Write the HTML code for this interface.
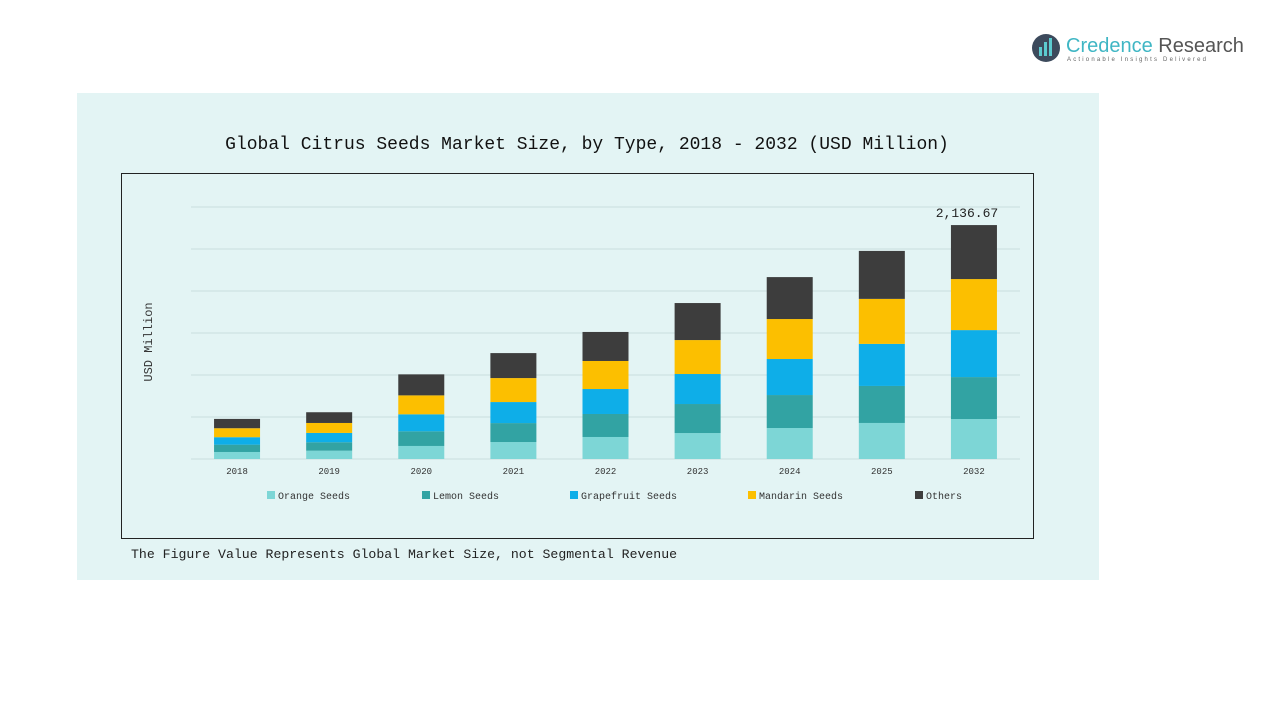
<!DOCTYPE html>
<html><head><meta charset="utf-8"><style>
body{margin:0;width:1267px;height:713px;background:#fff;overflow:hidden;font-family:"Liberation Mono","Noto Serif CJK SC",monospace;}
</style></head><body>
<svg id="chart" width="1267" height="713" xmlns="http://www.w3.org/2000/svg">
<g>
<circle cx="1046" cy="48" r="14" fill="#3c4a5c"/>
<rect x="1039" y="47" width="3" height="9" fill="#5ccbd0"/>
<rect x="1044" y="42" width="3" height="14" fill="#5ccbd0"/>
<rect x="1049" y="38" width="3" height="18" fill="#5ccbd0"/>
<text x="1066" y="52" font-family="Liberation Sans, sans-serif" font-size="20" fill="#3fb6c4">Credence <tspan fill="#555">Research</tspan></text>
<text x="1067" y="61" font-family="Liberation Sans, sans-serif" font-size="6" letter-spacing="2.2" fill="#666">Actionable Insights Delivered</text>
</g>
<rect x="77" y="93" width="1022" height="487" fill="#e3f4f4"/>
<text x="587" y="149" text-anchor="middle" font-size="18" fill="#111">Global Citrus Seeds Market Size, by Type, 2018 - 2032 (USD Million)</text>
<rect x="121.5" y="173.5" width="912" height="365" fill="none" stroke="#222" stroke-width="1"/>
<text transform="translate(152,342) rotate(-90)" text-anchor="middle" font-size="12" fill="#333">USD Million</text>
<g id="grid"></g><g id="bars"></g><g id="xlabels"></g><g id="legend"></g>
<text x="967" y="217" text-anchor="middle" font-size="13" fill="#222">2,136.67</text>
<text x="131" y="558" font-size="13.2" fill="#222">The Figure Value Represents Global Market Size, not Segmental Revenue</text>
</svg>
<script>
const categories=["2018","2019","2020","2021","2022","2023","2024","2025","2032"];
const seriesNames=["Orange Seeds","Lemon Seeds","Grapefruit Seeds","Mandarin Seeds","Others"];
const orange=[64,76,119,155,201,237,283,329,365];
const lemon=[67,77,134,173,210,265,301,338,383];
const grapefruit=[68,85,155,192,228,274,329,384,429];
const mandarin=[82,91,173,219,256,310,365,411,466];
const others=[85,98,192,228,265,338,383,438,493];
const series=[orange,lemon,grapefruit,mandarin,others];
const colors=["#7dd6d6","#32a3a3","#0eaee8","#fcbf00","#3d3d3d"];
const NS="http://www.w3.org/2000/svg";
const x0=191,x1=1020,y0=459,yTop=207,yMax=2301,barW=46;
const band=(x1-x0)/categories.length;
const xc=i=>x0+band*(i+0.5);
const y=v=>y0-(v/yMax)*(y0-yTop);
function mk(tag,attrs,parent){const e=document.createElementNS(NS,tag);for(const k in attrs)e.setAttribute(k,attrs[k]);parent.appendChild(e);return e;}
const grid=document.getElementById('grid');
for(let g=0;g<=6;g++){const yy=y(yMax*g/6);
const l=mk('line',{x1:x0,x2:x1,y1:yy,y2:yy,stroke:'#c9dede','stroke-width':1},grid);

}
const bars=document.getElementById('bars');
categories.forEach((c,i)=>{let acc=0;
series.forEach((s,j)=>{const r=mk('rect',{x:xc(i)-barW/2,y:y(acc+s[i]),width:barW,height:y(acc)-y(acc+s[i]),fill:colors[j]},bars);


acc+=s[i];});
const t=mk('text',{x:xc(i),y:474,'text-anchor':'middle','font-size':9,fill:'#333'},document.getElementById('xlabels'));
t.textContent=c;


});
const legX=[267,422,570,748,915];
const leg=document.getElementById('legend');
seriesNames.forEach((n,j)=>{const g=mk('g',{},leg);


mk('rect',{x:legX[j],y:491,width:8,height:8,fill:colors[j]},g);
const t=mk('text',{x:legX[j]+11,y:499,'font-size':10,fill:'#333'},g);t.textContent=n;});
</script>
</body></html>
